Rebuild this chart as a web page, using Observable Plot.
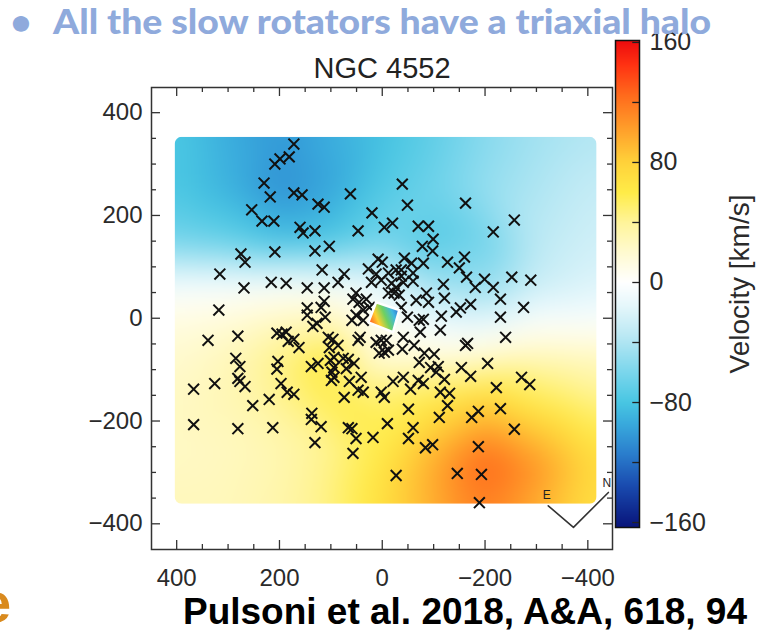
<!DOCTYPE html>
<html><head><meta charset="utf-8">
<script src="https://cdn.jsdelivr.net/npm/d3@7"></script>
<script src="https://cdn.jsdelivr.net/npm/@observablehq/plot@0.6"></script>
<style>
body{margin:0;background:#fff}
#root{position:relative;width:769px;height:634px;overflow:hidden;background:#fff}
#root > svg{position:absolute;left:0;top:0;overflow:visible}
</style></head><body><div id="root"></div>
<script>
// ---------------- data ----------------
const headline = "All the slow rotators have a triaxial halo";
const galaxyName = "NGC 4552";
const citation = "Pulsoni et al. 2018, A&A, 618, 94";
const cutWord = "e";
const axisTicks = [400, 200, 0, -200, -400];
const axisMinor = [350, 300, 250, 150, 100, 50, -50, -100, -150, -250, -300, -350];
const cbarTicks = [160, 80, 0, -80, -160];
const cbarMinor = [120, 40, -40, -120];
const cbarLabel = "Velocity [km/s]";

const velStops  = [-160, -135, -115, -95, -80, -60, -35, -15, 0, 20, 40, 60, 80, 100, 125, 145, 160];
const velColors = ["#0a1a80","#1a4cb0","#2a7ccc","#38a8dc","#48c6e2","#7ad6ec","#bce9f4","#e6f7fb","#ffffff",
                   "#fffad0","#fff49a","#ffec48","#ffd23a","#ffa42c","#ff6a1c","#ff3212","#ee0e0e"];

// velocity field (km/s), rows top -> bottom, columns left -> right
const fieldX = [404, 300, 200, 100, 0, -100, -200, -300, -417];
const fieldY = [353, 250, 150, 75, 0, -75, -150, -250, -300, -361];
const fieldV = [
  [-78,  -92, -102,  -92, -82, -70, -55, -45, -38],
  [-78,  -90, -106,  -96, -76, -65, -50, -40, -30],
  [-62,  -68,  -82,  -78, -64, -76, -64, -35, -25],
  [-12,  -12,  -10,  -15, -20, -50, -55, -30, -20],
  [ 12,   16,   24,   28,   0, -15, -20,  -5,  -5],
  [ 20,   28,   45,   65,  15,  15,  20,  28,  25],
  [ 24,   30,   42,   60,  50,  60,  72,  55,  40],
  [ 24,   26,   32,   42,  60,  90, 118,  95,  65],
  [ 25,   27,   32,   45,  66,  98, 128, 108,  72],
  [ 28,   28,   34,   46,  70,  95, 115,  95,  68]
];

// globular cluster positions (x, y)
const gcX = [172,209,199,181,230,218,172,156,254,234,211,125,113,160,154,131,62,47,275,267,
  209,131,103,117,316,216,187,269,146,113,86,74,318,146,146,119,113,111,135,127,
  339,281,205,195,183,172,162,105,96,103,86,47,285,277,203,205,281,277,267,367,
  326,252,220,197,185,172,138,125,101,94,98,99,64,74,47,66,55,137,138,119,
  131,66,59,51,57,367,281,213,-39,-49,20,-4,-20,-70,-90,-99,-78,-98,-162,-216,
  -257,-160,-127,-150,-164,-181,-199,-216,-252,-289,-230,-275,-230,-240,-119,-121,-115,-113,-172,-144,
  -152,-162,-166,-80,-43,-57,-37,-60,-86,-90,-66,-72,-80,-74,-49,-23,-37,8,0,27,
  12,21,2,-12,-27,-37,-18,-27,-41,-60,-12,-33,51,57,45,31,25,37,51,59,
  37,187,43,12,2,6,-4,94,76,70,94,41,37,2,-8,-12,-39,-62,-82,-101,
  -72,-94,-109,-105,-154,-172,-205,-121,-21,-41,-70,-80,-271,-287,-222,-4,-55,-113,-131,-127,
  -51,-187,-174,-230,-111,-10,-60,-51,-257,-84,-98,-187,-27,-146,-193,-189,18,-41];
const gcY = [339,300,310,314,263,236,244,240,211,189,189,222,216,177,166,170,242,170,125,109,
  129,131,140,94,86,70,68,59,59,59,70,86,16,20,6,21,33,2,-16,-10,
  -43,-35,-29,-31,-45,-41,-57,-37,-41,-57,-53,-43,-78,-94,-84,-99,-117,-123,-133,-138,
  -127,-170,-158,-127,-144,-148,-94,-88,-82,-96,-105,-121,-123,-154,-140,-80,-88,-185,-197,-211,
  -242,-213,-215,-234,-263,-207,-215,-213,261,220,205,177,185,179,179,154,140,131,224,168,
  191,119,109,98,80,60,76,60,80,74,37,21,2,-37,66,39,4,-23,27,12,
  20,-53,-49,107,117,107,94,88,49,31,35,-4,-2,-27,2,49,21,115,109,96,
  86,70,74,88,94,82,68,60,70,72,49,45,49,37,31,37,21,16,6,-4,
  -4,-27,-37,-47,-43,-68,-66,-76,-78,-98,-115,-115,-144,-144,-43,-62,-60,-53,-68,-70,
  -86,-96,-94,-105,-96,-113,-88,-119,-123,-115,-121,-127,-115,-129,-135,-154,-138,-144,-146,-170,
  -177,-181,-193,-176,-193,-205,-213,-234,-216,-252,-246,-250,-306,-302,-304,-359,-232,-37];

// central kinematic inset (outline corners)
const insetX = [12, -33, -21, 27, 12];
const insetY = [31, 16, -27, -8, 31];
// compass arms
const compassX = [-323, -372, -440];
const compassY = [-365, -407, -339];
const compassLabels = ["E", "N"];
const compassLabelX = [-320, -437];
const compassLabelY = [-345, -320];

// ---------------- build ----------------
const fmt = d => d < 0 ? "\u2212" + Math.abs(d) : String(d);
const xDomain = [449, -448], yDomain = [-450, 449];
const Lmaj = 17.5, Lmin = 9.7;
const field = fieldY.flatMap((y, i) => fieldX.map((x, j) => ({x, y, v: fieldV[i][j]})));
const gcs = gcX.map((x, i) => ({x, y: gcY[i]}));
const inset = insetX.map((x, i) => ({x, y: insetY[i]}));
const compass = compassX.map((x, i) => ({x, y: compassY[i]}));
const colorOpts = {type: "linear", domain: velStops, range: velColors, interpolate: "rgb"};
const font = "'Liberation Sans', Arial, Helvetica, sans-serif";
const tickStyle = {stroke: "#333", strokeWidth: 1.3};

function tickMarks(vals, L) {
  return [
    Plot.ruleX(vals, {x: d => d, y1: yDomain[1], y2: yDomain[1] - L, ...tickStyle}),
    Plot.ruleX(vals, {x: d => d, y1: yDomain[0], y2: yDomain[0] + L, ...tickStyle}),
    Plot.ruleY(vals, {y: d => d, x1: xDomain[0], x2: xDomain[0] - L, ...tickStyle}),
    Plot.ruleY(vals, {y: d => d, x1: xDomain[1], x2: xDomain[1] + L, ...tickStyle})
  ];
}

const chart = Plot.plot({
  width: 769, height: 634,
  marginLeft: 151, marginRight: 157, marginTop: 87, marginBottom: 85,
  style: {fontFamily: font, fontSize: "24px", color: "#2a2a2a", background: "transparent", overflow: "visible"},
  x: {domain: xDomain, ticks: axisTicks, tickFormat: fmt, tickSize: 0, tickPadding: 19, label: null},
  y: {domain: yDomain, ticks: axisTicks, tickFormat: fmt, tickSize: 0, tickPadding: 9, label: null},
  color: colorOpts,
  marks: [
    Plot.raster(field, {x: "x", y: "y", fill: "v", x1: 404, x2: -417, y1: -361, y2: 353,
      interpolate: "barycentric", blur: 14}),
    Plot.dot(gcs, {x: "x", y: "y", symbol: "times", r: 5, stroke: "#111", strokeWidth: 2}),
    Plot.line(inset, {x: "x", y: "y", fill: "url(#insetGrad)", stroke: "#fff", strokeWidth: 2.5}),
    Plot.line(compass, {x: "x", y: "y", stroke: "#333", strokeWidth: 1.6}),
    Plot.text(compassLabels, {x: (d, i) => compassLabelX[i], y: (d, i) => compassLabelY[i], text: d => d,
      fontSize: 12, fill: "#222"}),
    ...tickMarks(axisTicks, Lmaj),
    ...tickMarks(axisMinor, Lmin),
    Plot.frame({stroke: "#333", strokeWidth: 1.5}),
    Plot.text([galaxyName], {frameAnchor: "top", text: d => d, dy: -30, fontSize: 29, fill: "#222"})
  ]
});

// gradient for the inset and rounded clip for the map
{
  const svg = d3.select(chart);
  const defs = svg.insert("defs", ":first-child");
  const g = defs.append("linearGradient").attr("id", "insetGrad").attr("x1", "0").attr("x2", "1").attr("y1", "0.7").attr("y2", "0.3");
  [["0", "#ff4a1e"], ["0.3", "#ffd030"], ["0.55", "#6fd060"], ["0.8", "#40b8e0"], ["1", "#3070d0"]]
    .forEach(([o, c]) => g.append("stop").attr("offset", o).attr("stop-color", c));
  const sx = chart.scale("x"), sy = chart.scale("y");
  const xa = sx.apply(404), xb = sx.apply(-417), ya = sy.apply(353), yb = sy.apply(-361);
  defs.append("clipPath").attr("id", "mapClip").append("rect")
    .attr("x", Math.min(xa, xb)).attr("y", Math.min(ya, yb))
    .attr("width", Math.abs(xb - xa)).attr("height", Math.abs(yb - ya)).attr("rx", 7);
  svg.select('g[aria-label="raster"]').attr("clip-path", "url(#mapClip)");
}

const cbar = Plot.plot({
  width: 169, height: 634, marginLeft: 15, marginRight: 130, marginTop: 40, marginBottom: 107,
  style: {fontFamily: font, fontSize: "25px", color: "#2a2a2a", background: "transparent", overflow: "visible"},
  x: {domain: [0, 1], axis: null},
  y: {domain: [-163.3, 161.3], axis: "right", ticks: cbarTicks, tickFormat: fmt, tickSize: 0, tickPadding: 10, label: null},
  color: colorOpts,
  marks: [
    Plot.raster({fill: (x, y) => y, x1: 0, x2: 1, y1: -163.3, y2: 161.3}),
    Plot.ruleY([...cbarTicks, ...cbarMinor], {y: d => d, x1: 0.72, x2: 1, stroke: "#222", strokeWidth: 1.3}),
    Plot.frame({stroke: "#111", strokeWidth: 1.5}),
    Plot.text([cbarLabel], {frameAnchor: "right", textAnchor: "middle", text: d => d, rotate: -90, dx: 101,
      fontSize: 28, fill: "#2a2a2a"})
  ]
});
cbar.style.left = "600px";

const ov = d3.create("svg").attr("width", 769).attr("height", 634).style("pointer-events", "none");
ov.append("text").attr("x", 21).attr("y", 34).attr("text-anchor", "middle")
  .attr("font-family", "Lato, 'Open Sans', sans-serif").attr("font-weight", 900).attr("font-size", 35)
  .attr("fill", "#8faadc").text("\u2022");
ov.append("text").attr("x", 53).attr("y", 34).attr("textLength", 658).attr("lengthAdjust", "spacingAndGlyphs")
  .attr("font-family", "Lato, 'Open Sans', sans-serif").attr("font-weight", 900).attr("font-size", 35)
  .attr("fill", "#8faadc").text(headline);
ov.append("text").attr("x", 183).attr("y", 624).attr("textLength", 564).attr("lengthAdjust", "spacingAndGlyphs")
  .attr("font-family", font).attr("font-weight", 700).attr("font-size", 37)
  .attr("fill", "#000").text(citation);
ov.append("text").attr("x", -20).attr("y", 622)
  .attr("font-family", font).attr("font-weight", 700).attr("font-size", 56)
  .attr("fill", "#d98a1e").text(cutWord);

const root = document.getElementById("root");
root.append(chart);
root.append(cbar);
root.append(ov.node());
</script></body></html>
